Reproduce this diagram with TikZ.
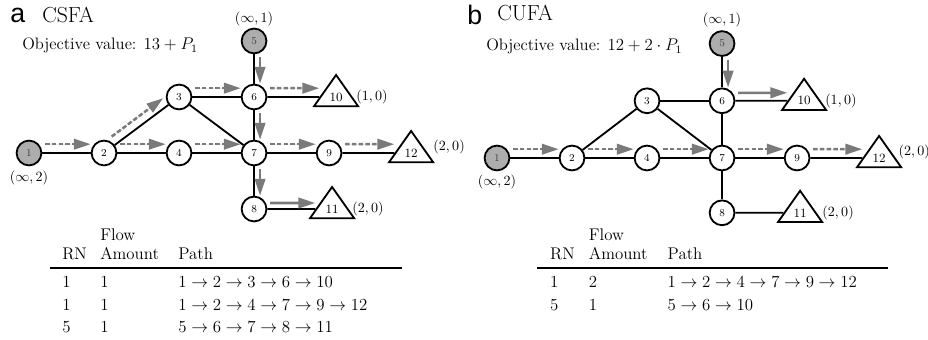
\documentclass[tikz,border=0pt]{standalone}
\usepackage{fontspec}
\newfontfamily\panelfont{Liberation Sans}
\usetikzlibrary{shapes.geometric,arrows.meta,positioning}

\newcommand{\flowpath}[1]{{\fontsize{12.3}{13.5}\selectfont$#1$}}

\begin{document}
\begin{tikzpicture}[x=0.025cm, y=0.025cm, node distance=1.875cm]
    \tikzstyle{vertex} = [circle, draw, line width=1.3pt, fill=white, minimum size=0.62cm, inner sep=0pt, font=\fontsize{7.5}{8}\selectfont]
    \tikzstyle{source} = [vertex, fill=black!32, text=black!75]
    \tikzstyle{sink} = [isosceles triangle, isosceles triangle stretches, shape border rotate=90, draw, line width=1.3pt, fill=white, minimum width=1.1cm, minimum height=0.78cm, inner sep=0pt, font=\fontsize{9}{10}\selectfont]
    \tikzstyle{line} = [draw, line width=1.3pt]
    \tikzstyle{flow} = [draw=black!52, fill=black!52, line width=1.8pt, -{Triangle[length=0.42cm,width=0.26cm]}, shorten <=2pt]
    \tikzstyle{flowdash} = [flow, dash pattern=on 3.2pt off 1.6pt]
    \tikzstyle{capacity} = [font=\fontsize{10.3}{12}\selectfont, inner sep=1pt]
    \tikzstyle{paneltag} = [anchor=base west, inner sep=0pt, font=\panelfont\fontsize{19}{20}\selectfont]
    \tikzstyle{paneltitle} = [anchor=base west, inner sep=0pt, font=\fontsize{15.5}{17}\selectfont]
    \tikzstyle{objective} = [anchor=base west, inner sep=0pt, font=\fontsize{11.8}{14}\selectfont]
    \tikzstyle{pathtable} = [anchor=north west, inner sep=0pt, font=\fontsize{12}{13.5}\selectfont]

    \useasboundingbox (0,0) rectangle (928,-340);

    % panel a: CSFA
    \node [paneltag] (atag) at (10,-23) {a};
    \node [paneltitle] (atitle) at (42,-23) {CSFA};
    \node [objective] (aobj) at (22,-50) {Objective value: $13+P_1$};

    \node [source] (a1) at (29,-153) {1};
    \node [vertex, right of=a1] (a2) {2};
    \node [vertex, right of=a2] (a4) {4};
    \node [vertex, right of=a4] (a7) {7};
    \node [vertex, right of=a7] (a9) {9};
    \node [vertex, above of=a4, node distance=1.4cm] (a3) {3};
    \node [vertex, above of=a7, node distance=1.4cm] (a6) {6};
    \node [source, above of=a6, node distance=1.4cm] (a5) {5};
    \node [vertex, below of=a7, node distance=1.4cm] (a8) {8};
    \node [sink, right of=a6, node distance=2.05cm] (a10) {10};
    \node [sink, right of=a9, node distance=2.05cm] (a12) {12};
    \node [sink, right of=a8, node distance=1.95cm] (a11) {11};

    \node [capacity, above of=a5, node distance=0.55cm] (a5lbl) {$(\infty,1)$};
    \node [capacity, below of=a1, node distance=0.62cm] (a1lbl) {$(\infty,2)$};
    \node [capacity, right of=a10, node distance=0.9cm] (a10lbl) {$(1,0)$};
    \node [capacity, right of=a12, node distance=0.95cm, yshift=0.15cm] (a12lbl) {$(2,0)$};
    \node [capacity, right of=a11, node distance=0.9cm] (a11lbl) {$(2,0)$};

    \path [line] (a1) -- (a2);
    \path [line] (a2) -- (a3);
    \path [line] (a2) -- (a4);
    \path [line] (a3) -- (a6);
    \path [line] (a3) -- (a7);
    \path [line] (a4) -- (a7);
    \path [line] (a5) -- (a6);
    \path [line] (a6) -- (a7);
    \path [line] (a6) -- (a10);
    \path [line] (a7) -- (a9);
    \path [line] (a9) -- (a12);
    \path [line] (a7) -- (a8);
    \path [line] (a8) -- (a11);

    \path [flowdash, transform canvas={yshift=0.22cm}] (a1) -- (a2);
    \path [flowdash, transform canvas={shift={(-0.13cm,0.17cm)}}] (a2) -- (a3);
    \path [flowdash, transform canvas={yshift=0.22cm}] (a3) -- (a6);
    \path [flowdash, transform canvas={yshift=0.22cm}] (a6) -- (a10);
    \path [flowdash, transform canvas={yshift=0.22cm}] (a2) -- (a4);
    \path [flowdash, transform canvas={yshift=0.22cm}] (a4) -- (a7);
    \path [flowdash, transform canvas={yshift=0.22cm}] (a7) -- (a9);
    \path [flowdash, transform canvas={yshift=0.22cm}] (a9) -- (a12);
    \path [flow, transform canvas={xshift=0.15cm}] (a5) -- (a6);
    \path [flow, transform canvas={xshift=0.15cm}] (a6) -- (a7);
    \path [flow, transform canvas={xshift=0.15cm}] (a7) -- (a8);
    \path [flow, transform canvas={yshift=0.15cm}] (a8) -- (a11);

    \node [pathtable] (atab) at (50,-226.7) {\setlength{\arrayrulewidth}{1.1pt}%
      \begin{tabular}{@{\hspace{0.3cm}}p{0.95cm}@{}p{1.95cm}@{}p{5.6cm}@{}}
        & Flow & \\
        RN & Amount & Path \\[1.6pt]
        \hline
        \noalign{\vskip 4pt}
        1 & 1 & \flowpath{1\rightarrow2\rightarrow3\rightarrow6\rightarrow10} \\[3pt]
        1 & 1 & \flowpath{1\rightarrow2\rightarrow4\rightarrow7\rightarrow9\rightarrow12} \\[2pt]
        5 & 1 & \flowpath{5\rightarrow6\rightarrow7\rightarrow8\rightarrow11} \\
      \end{tabular}};

    % panel b: CUFA
    \node [paneltag] (btag) at (467,-25) {b};
    \node [paneltitle] (btitle) at (497,-21) {CUFA};
    \node [objective] (bobj) at (486,-51) {Objective value: $12+2\cdot P_1$};

    \node [source] (b1) at (497,-158) {1};
    \node [vertex, right of=b1] (b2) {2};
    \node [vertex, right of=b2] (b4) {4};
    \node [vertex, right of=b4] (b7) {7};
    \node [vertex, right of=b7] (b9) {9};
    \node [vertex, above of=b4, node distance=1.43cm] (b3) {3};
    \node [vertex, above of=b7, node distance=1.43cm] (b6) {6};
    \node [source, above of=b6, node distance=1.43cm] (b5) {5};
    \node [vertex, below of=b7, node distance=1.37cm] (b8) {8};
    \node [sink, right of=b6, node distance=2.05cm] (b10) {10};
    \node [sink, right of=b9, node distance=2.05cm] (b12) {12};
    \node [sink, right of=b8, node distance=1.95cm] (b11) {11};

    \node [capacity, above of=b5, node distance=0.58cm] (b5lbl) {$(\infty,1)$};
    \node [capacity, below of=b1, node distance=0.6cm] (b1lbl) {$(\infty,2)$};
    \node [capacity, right of=b10, node distance=0.92cm] (b10lbl) {$(1,0)$};
    \node [capacity, right of=b12, node distance=0.88cm, yshift=0.15cm] (b12lbl) {$(2,0)$};
    \node [capacity, right of=b11, node distance=0.95cm] (b11lbl) {$(2,0)$};

    \path [line] (b1) -- (b2);
    \path [line] (b2) -- (b3);
    \path [line] (b2) -- (b4);
    \path [line] (b3) -- (b6);
    \path [line] (b3) -- (b7);
    \path [line] (b4) -- (b7);
    \path [line] (b5) -- (b6);
    \path [line] (b6) -- (b7);
    \path [line] (b6) -- (b10);
    \path [line] (b7) -- (b9);
    \path [line] (b9) -- (b12);
    \path [line] (b7) -- (b8);
    \path [line] (b8) -- (b11);

    \path [flowdash, transform canvas={yshift=0.22cm}] (b1) -- (b2);
    \path [flowdash, transform canvas={yshift=0.22cm}] (b2) -- (b4);
    \path [flowdash, transform canvas={yshift=0.22cm}] (b4) -- (b7);
    \path [flowdash, transform canvas={yshift=0.22cm}] (b7) -- (b9);
    \path [flowdash, transform canvas={yshift=0.22cm}] (b9) -- (b12);
    \path [flow, transform canvas={xshift=0.15cm}] (b5) -- (b6);
    \path [flow, transform canvas={yshift=0.2cm}] (b6) -- (b10);

    \node [pathtable] (btab) at (537,-226.7) {\setlength{\arrayrulewidth}{1.1pt}%
      \begin{tabular}{@{\hspace{0.32cm}}p{0.97cm}@{}p{1.97cm}@{}p{5.5cm}@{}}
        & Flow & \\
        RN & Amount & Path \\[1.6pt]
        \hline
        \noalign{\vskip 4pt}
        1 & 2 & \flowpath{1\rightarrow2\rightarrow4\rightarrow7\rightarrow9\rightarrow12} \\[2.9pt]
        5 & 1 & \flowpath{5\rightarrow6\rightarrow10} \\
      \end{tabular}};
\end{tikzpicture}
\end{document}
